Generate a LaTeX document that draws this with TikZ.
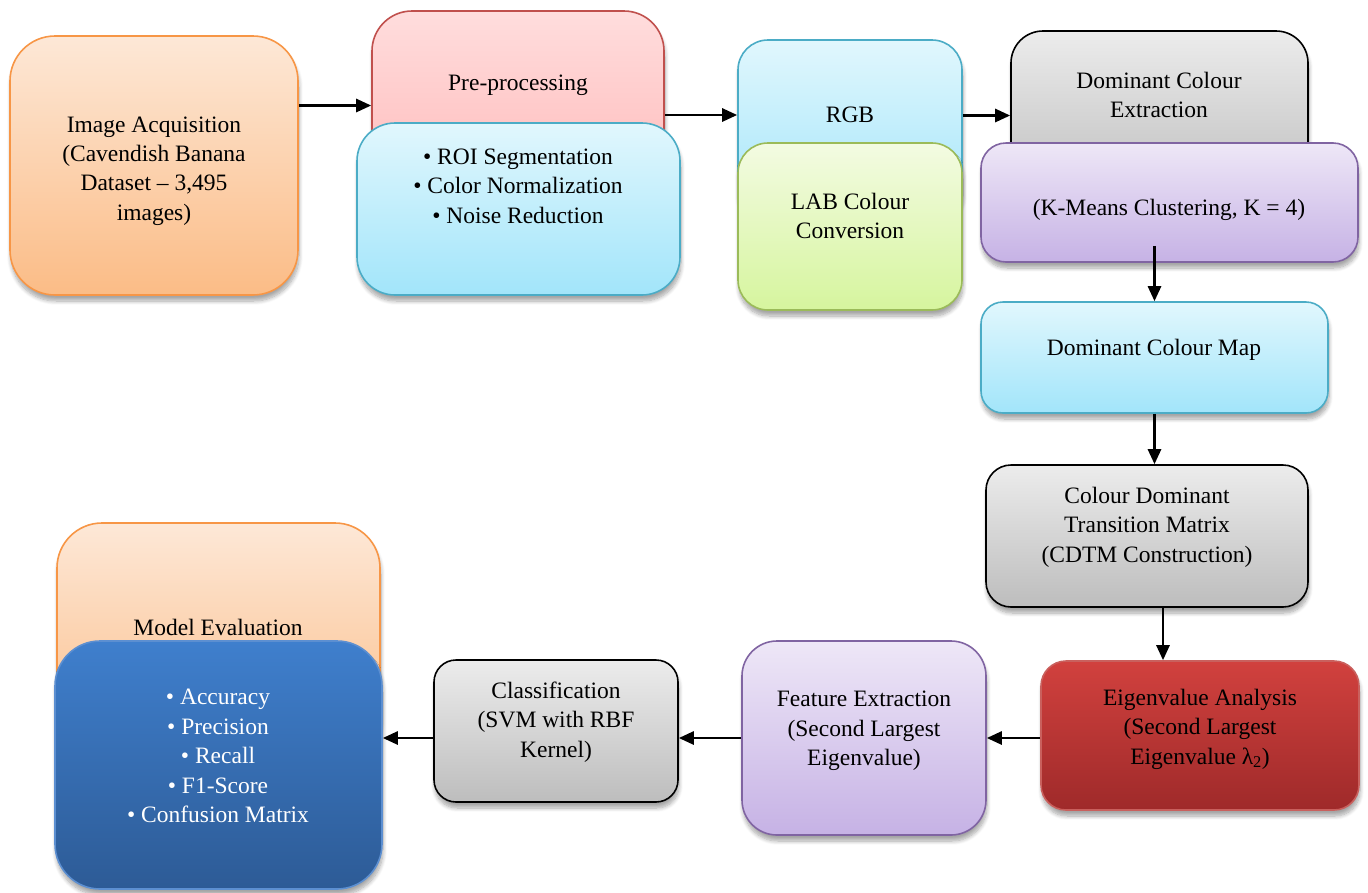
\documentclass[tikz,border=0pt]{standalone}
\usepackage{fontspec}
\setmainfont{Liberation Serif}
\usetikzlibrary{arrows.meta,shadows.blur}
\definecolor{orTop}{HTML}{FDE8D7}\definecolor{orBot}{HTML}{FBBC86}\definecolor{orDraw}{HTML}{F79646}
\definecolor{pkTop}{HTML}{FFDDDD}\definecolor{pkBot}{HTML}{FFB9B9}\definecolor{pkDraw}{HTML}{C0504D}
\definecolor{blTop}{HTML}{E1F7FD}\definecolor{blBot}{HTML}{A2E5FA}\definecolor{blDraw}{HTML}{4BACC6}
\definecolor{grTop}{HTML}{F3FBE2}\definecolor{grBot}{HTML}{D6F59E}\definecolor{grDraw}{HTML}{9BBB59}
\definecolor{gyTop}{HTML}{ECECEC}\definecolor{gyBot}{HTML}{BDBDBD}
\definecolor{puTop}{HTML}{EEE7F7}\definecolor{puBot}{HTML}{C6B2E5}\definecolor{puDraw}{HTML}{8064A2}
\definecolor{rdTop}{HTML}{D1413E}\definecolor{rdBot}{HTML}{9F2A2A}\definecolor{rdDraw}{HTML}{C9605D}
\definecolor{dbTop}{HTML}{3F7FCD}\definecolor{dbBot}{HTML}{2D5B96}\definecolor{dbDraw}{HTML}{5C8FD1}
\tikzset{
  box/.style={draw, line width=1.6pt, shading=axis, inner sep=0pt,
    blur shadow={shadow xshift=1pt, shadow yshift=-6pt, shadow blur steps=8, shadow opacity=35, shadow blur radius=4pt}},
  orbox/.style={box, top color=orTop, bottom color=orBot, draw=orDraw},
  pkbox/.style={box, top color=pkTop, bottom color=pkBot, draw=pkDraw},
  blbox/.style={box, top color=blTop, bottom color=blBot, draw=blDraw},
  grbox/.style={box, top color=grTop, bottom color=grBot, draw=grDraw},
  gybox/.style={box, top color=gyTop, bottom color=gyBot, draw=black},
  pubox/.style={box, top color=puTop, bottom color=puBot, draw=puDraw},
  rdbox/.style={box, top color=rdTop, bottom color=rdBot, draw=rdDraw},
  dbbox/.style={box, top color=dbTop, bottom color=dbBot, draw=dbDraw},
  txt/.style={align=center, inner sep=0pt, font=\fontsize{23.5}{29.5}\selectfont},
  arr/.style={line width=2.7pt, -{Triangle[length=15pt,width=13pt]}}
}
\begin{document}
\begin{tikzpicture}[x=1pt,y=-1pt]
\useasboundingbox (0,0) rectangle (1368,892);
% top row
\node[orbox, minimum width=288, minimum height=259, rounded corners=45] (acq) at (154,165.5) {};
\node[txt] (acqt) at (154,171) {Image Acquisition\\(Cavendish Banana\\Dataset -- 3,495\\images)};
\node[pkbox, minimum width=292, minimum height=189, rounded corners=40] (pre) at (518,105.5) {};
\node[txt] (pret) at (518,85) {Pre-processing};
\node[blbox, minimum width=323, minimum height=172, rounded corners=38] (preb) at (518.5,209) {};
\node[txt] (prebt) at (518,186) {• ROI Segmentation\\• Color Normalization\\• Noise Reduction};
\node[blbox, minimum width=224, minimum height=180, rounded corners=30] (rgb) at (850,130) {};
\node[txt] (rgbt) at (850,115) {RGB};
\node[grbox, minimum width=224, minimum height=167, rounded corners=30] (lab) at (850,226.5) {};
\node[txt] (labt) at (850,216) {LAB Colour\\Conversion};
\node[gybox, minimum width=297, minimum height=169, rounded corners=32] (dce) at (1159.5,115.5) {};
\node[txt] (dcet) at (1159,95) {Dominant Colour\\Extraction};
\node[pubox, minimum width=377, minimum height=119, rounded corners=25] (km) at (1169.5,202.5) {};
\node[txt] (kmt) at (1169,210) {(K-Means Clustering, K = 4)};
% right column
\node[blbox, minimum width=347, minimum height=111, rounded corners=22] (dcm) at (1154.5,357.5) {};
\node[txt] (dcmt) at (1154,350) {Dominant Colour Map};
\node[gybox, minimum width=322, minimum height=142, rounded corners=25] (cdtm) at (1147,536) {};
\node[txt] (cdtmt) at (1147,527) {Colour Dominant\\Transition Matrix\\(CDTM Construction)};
% bottom row
\node[rdbox, minimum width=318, minimum height=149, rounded corners=25] (eig) at (1200,735.5) {};
\node[txt] (eigt) at (1200,729) {Eigenvalue Analysis\\(Second Largest\\Eigenvalue λ\textsubscript{2})};
\node[pubox, minimum width=244, minimum height=194, rounded corners=35] (fe) at (864,738) {};
\node[txt] (fet) at (864,731) {Feature Extraction\\(Second Largest\\Eigenvalue)};
\node[gybox, minimum width=244, minimum height=142, rounded corners=22] (cls) at (556,731) {};
\node[txt] (clst) at (556,722) {Classification\\(SVM with RBF\\Kernel)};
\node[orbox, minimum width=323, minimum height=237, rounded corners=45] (me) at (218.5,641.5) {};
\node[txt] (met) at (218,627) {Model Evaluation};
\node[dbbox, minimum width=327, minimum height=248, rounded corners=45] (meb) at (218.5,765) {};
\node[txt, text=white] (mebt) at (218,756) {• Accuracy\\• Precision\\• Recall\\• F1-Score\\• Confusion Matrix};
% connectors
\draw[arr] (acq.east |- pre.west) -- (pre.west);
\draw[arr] (pre.east |- rgbt) -- (rgb.west |- rgbt);
\draw[arr] (rgb.east |- dce.west) -- (dce.west);
\draw[arr] ([yshift=17pt]km.south -| dcm.north) -- (dcm.north);
\draw[arr] (dcm.south) -- (dcm.south |- cdtm.north);
\draw[arr] ([xshift=16pt]cdtm.south) -- ([xshift=16pt]cdtm.south |- eig.north);
\draw[arr] (eig.west |- fe.east) -- (fe.east);
\draw[arr] (fe.west) -- (fe.west -| cls.east);
\draw[arr] (cls.west |- fe.west) -- (meb.east |- fe.west);
\end{tikzpicture}
\end{document}
